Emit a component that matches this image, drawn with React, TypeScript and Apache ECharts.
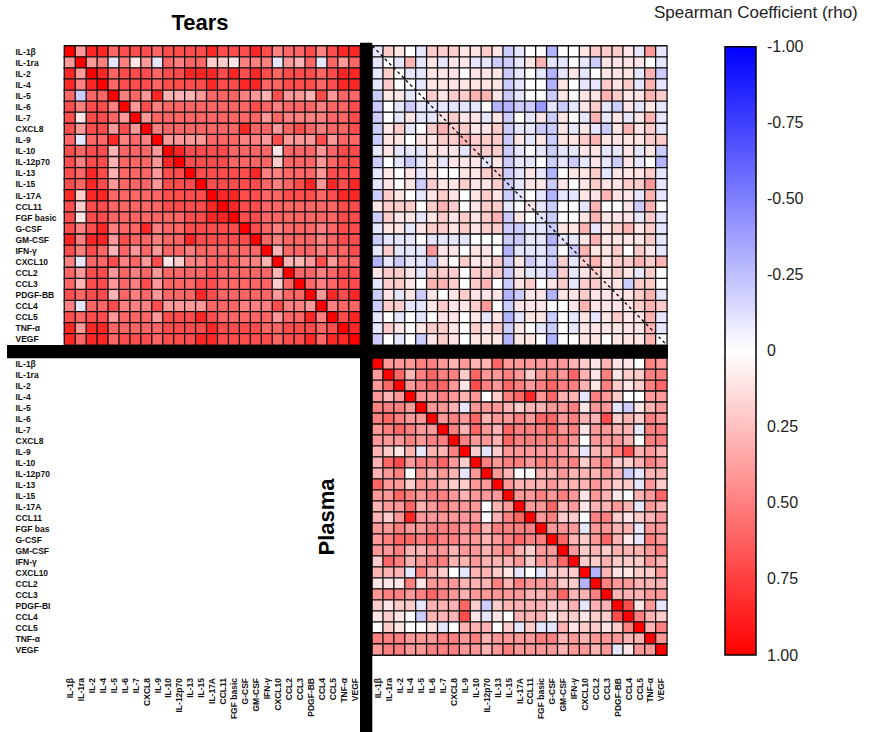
import React, { useEffect, useRef } from "react";
import * as echarts from "echarts";

// ---- labels ----
const tearsLabels = ["IL-1β","IL-1ra","IL-2","IL-4","IL-5","IL-6","IL-7","CXCL8","IL-9","IL-10","IL-12p70","IL-13","IL-15","IL-17A","CCL11","FGF basic","G-CSF","GM-CSF","IFN-γ","CXCL10","CCL2","CCL3","PDGF-BB","CCL4","CCL5","TNF-α","VEGF"];
const plasmaRowLabels = ["IL-1β","IL-1ra","IL-2","IL-4","IL-5","IL-6","IL-7","CXCL8","IL-9","IL-10","IL-12p70","IL-13","IL-15","IL-17A","CCL11","FGF bas","G-CSF","GM-CSF","IFN-γ","CXCL10","CCL2","CCL3","PDGF-BI","CCL4","CCL5","TNF-α","VEGF"];
const plasmaColLabels = ["IL-1β","IL-1ra","IL-2","IL-4","IL-5","IL-6","IL-7","CXCL8","IL-9","IL-10","IL-12p70","IL-13","IL-15","IL-17A","CCL11","FGF basic","G-CSF","GM-CSF","IFN-γ","CXCL10","CCL2","CCL3","PDGF-BB","CCL4","CCL5","TNF-α","VEGF"];
const colorTicks = [-1, -0.75, -0.5, -0.25, 0, 0.25, 0.5, 0.75, 1];

// rho levels: one character per cell
const rhoLevel: Record<string, number> = {
  "0": 0, "1": 0.1, "2": 0.2, "3": 0.3, "4": 0.4, "5": 0.5, "6": 0.6, "7": 0.7, "8": 0.85, "9": 1,
  a: -0.1, b: -0.2, c: -0.3, d: -0.4,
};

// Tears vs Tears (rows top->bottom, columns left->right)
const tearsRho = [
  "948867776777787778756675788",
  "4945a514a6566221555a436a646",
  "849867776778887878767776788",
  "858967776777787788667776788",
  "6b6695648333466654374437466",
  "757759475666666667656665667",
  "717764946666666666465555667",
  "747747495666666686646765667",
  "6a6685659444466655474447466",
  "767736664987777666616664677",
  "757736664897777666626664677",
  "768736664779777778556664777",
  "768746664777977777656784878",
  "828866666777798877667776788",
  "727766666777789877666666677",
  "717766666667788977666666677",
  "757856685667777797656665677",
  "858847665668777779656665677",
  "757636464665666666936665667",
  "5a6675647125566655393347466",
  "647746564666676666639665677",
  "637746574666776666626965677",
  "767736564666876666646694878",
  "5a6675557444466655575549566",
  "767746664777876666646685978",
  "848866666777787777667776798",
  "868867776777887777767786889",
];

// Tears (rows) vs Plasma (columns)
const crossRho = [
  "a210a2221121ba00c0012221a4a",
  "a0a3a1a11aabba13aa0ab11110a",
  "a20aa1110111ba0aca1a0111a3b",
  "a200a1111111ba00c10aa212a3a",
  "b11a02122331ba00b1011321132",
  "b0abaaaaaa0ccbbdaba12ab1a1a",
  "b0a1aa1211a1b0a1b10a3a1a13a",
  "b12a02322112baabb1a1ab1312a",
  "b11011223222b1a1b1123111122",
  "a1aaa111a222ba0abaa11aa1a1b",
  "b0aba1a111a1baa0baba1ab1a0c",
  "a101a1001122ba1ac0112a1112a",
  "a101b2112112ba11b101211224a",
  "b210a1210121ba0acaa11311a3a",
  "122202320122a01ab00a3001b30",
  "b211a1212123b10ab0013111a2a",
  "a11a12212122bbaab113a12312a",
  "baaa0aaaa000bbaacaa1311112a",
  "a2aaa4110110caaab0b3112021a",
  "cabaab102112b1bab2a23122323",
  "1221a2220222b1aab2a12121a20",
  "a22103320230b12012a2211b220",
  "b1a1b1012111cb11c112111123a",
  "b22aa1211240b11100131111232",
  "a0a0a01101a1ca11b0a1a12113a",
  "a21012210212b10ab0a1111113a",
  "b0a0b1210111c110c0011011130",
];

// Plasma vs Plasma
const plasmaRho = [
  "944455434336444444321311054",
  "496356552644542454631512255",
  "469456641754654565531521256",
  "4349445434025684633a5420044",
  "55549443a4443233445144ab134",
  "565449454634454664533723254",
  "456544953643655564514433a55",
  "444545595443655555404443055",
  "3213a33592a24444443a3357343",
  "367455642954554554524522354",
  "34504343a49430033433343ba33",
  "644244322449433343334322a42",
  "446545543444944545414310346",
  "344634544403494463413343a43",
  "324844444403569452205521234",
  "4454455545355559444a4433a44",
  "456656554434565596324631a54",
  "445334434434532449423233345",
  "265345533433342446922322243",
  "333a5320a3321a0a2229c311224",
  "1115144433353544422c9544333",
  "455456543444443346335933344",
  "2122a33362b23333223a339714a",
  "1210b33371a1033312212279532",
  "021001a033302a2aa3122125935",
  "555444554534444553434443394",
  "4554455544345444434434a1449",
];

function toCells(rows: string[]) {
  const out: [number, number, number][] = [];
  rows.forEach((row, y) => {
    for (let x = 0; x < row.length; x++) out.push([x, y, rhoLevel[row[x]]]);
  });
  return out;
}

const FONT = "'Liberation Sans', Arial, sans-serif";
const labelStyle = { fontSize: 8.5, fontWeight: "bold" as const, fontFamily: FONT, color: "#111" };

const grids = [
  { left: 64.5, top: 46, width: 295.5, height: 299 }, // tears-tears
  { left: 372.3, top: 46, width: 294.5, height: 299 }, // tears-plasma
  { left: 64.5, top: 358.3, width: 295.5, height: 296.7 }, // empty (labels)
  { left: 372.3, top: 358.3, width: 294.5, height: 296.7 }, // plasma-plasma
  { left: 725, top: 46.7, width: 31, height: 608.3 }, // colour bar axis
];

export default function App() {
  const ref = useRef<HTMLDivElement>(null);
  useEffect(() => {
    if (!ref.current) return;
    const chart = echarts.init(ref.current, undefined, { renderer: "svg" });
    const catX = (i: number, data: string[], showLabel: boolean) => ({
      type: "category",
      gridIndex: i,
      data,
      position: "bottom",
      axisLine: { show: false },
      axisTick: { show: false },
      splitLine: { show: false },
      axisLabel: { show: showLabel, rotate: 90, interval: 0, margin: 23, ...labelStyle },
    });
    const catY = (i: number, data: string[], showLabel: boolean) => ({
      type: "category",
      gridIndex: i,
      data,
      inverse: true,
      axisLine: { show: false },
      axisTick: { show: false },
      splitLine: { show: false },
      axisLabel: { show: showLabel, interval: 0, align: "left", margin: 49, ...labelStyle },
    });
    const heat = (xi: number, rows: string[]) => ({
      type: "heatmap",
      xAxisIndex: xi,
      yAxisIndex: xi,
      data: toCells(rows),
      itemStyle: { borderColor: "#111", borderWidth: 1.3 },
      emphasis: { disabled: true },
      silent: true,
    });
    const option: any = {
      animation: false,
      backgroundColor: "#fff",
      grid: grids,
      xAxis: [
        catX(0, tearsLabels, false),
        catX(1, plasmaColLabels, false),
        catX(2, tearsLabels, true),
        catX(3, plasmaColLabels, true),
        { type: "value", gridIndex: 4, show: false, min: 0, max: 1 },
      ],
      yAxis: [
        catY(0, tearsLabels, true),
        catY(1, tearsLabels, false),
        catY(2, plasmaRowLabels, true),
        catY(3, plasmaColLabels, false),
        {
          type: "value",
          gridIndex: 4,
          min: -1,
          max: 1,
          interval: 0.25,
          inverse: true,
          position: "right",
          axisLine: { show: false },
          axisTick: { show: false },
          splitLine: { show: false },
          axisLabel: {
            margin: 11,
            fontSize: 16,
            fontFamily: FONT,
            color: "#222",
            formatter: (v: number) => (colorTicks.includes(v) ? (v === 0 ? "0" : v.toFixed(2)) : ""),
          },
        },
      ],
      visualMap: {
        type: "continuous",
        min: -1,
        max: 1,
        inverse: true,
        orient: "vertical",
        left: 725,
        top: 46.7,
        itemWidth: 31,
        itemHeight: 608.3,
        padding: 0,
        calculable: false,
        hoverLink: false,
        seriesIndex: [0, 1, 2],
        inRange: { color: ["#0000ff", "#ffffff", "#ff0000"] },
      },
      series: [heat(0, tearsRho), heat(1, crossRho), heat(3, plasmaRho)],
      graphic: [
        { type: "rect", z: 50, shape: { x: 360, y: 42.7, width: 12.3, height: 700 }, style: { fill: "#000" } },
        { type: "rect", z: 50, shape: { x: 7, y: 345, width: 661, height: 13.3 }, style: { fill: "#000" } },
        {
          type: "line",
          z: 100,
          shape: { x1: 372.3, y1: 46, x2: 666.8, y2: 345 },
          style: { stroke: "#000", lineWidth: 1.3, lineDash: [3, 3] },
        },
        {
          type: "rect",
          z: 100,
          shape: { x: 725, y: 46.7, width: 31, height: 608.3 },
          style: { fill: "none", stroke: "#000", lineWidth: 1.5 },
        },
        {
          type: "text",
          z: 100,
          x: 200,
          y: 22,
          style: { text: "Tears", fontSize: 22, fontWeight: "bold", fontFamily: FONT, fill: "#000", align: "center", verticalAlign: "middle" },
        },
        {
          type: "text",
          z: 100,
          x: 326,
          y: 517,
          rotation: Math.PI / 2,
          style: { text: "Plasma", fontSize: 22, fontWeight: "bold", fontFamily: FONT, fill: "#000", align: "center", verticalAlign: "middle" },
        },
        {
          type: "text",
          z: 100,
          x: 654,
          y: 12,
          style: { text: "Spearman Coefficient (rho)", fontSize: 17, fontFamily: FONT, fill: "#222", align: "left", verticalAlign: "middle" },
        },
      ],
    };
    chart.setOption(option);
    return () => chart.dispose();
  }, []);
  return <div ref={ref} style={{ position: "fixed", left: 0, top: 0, width: 869, height: 732 }} />;
}
